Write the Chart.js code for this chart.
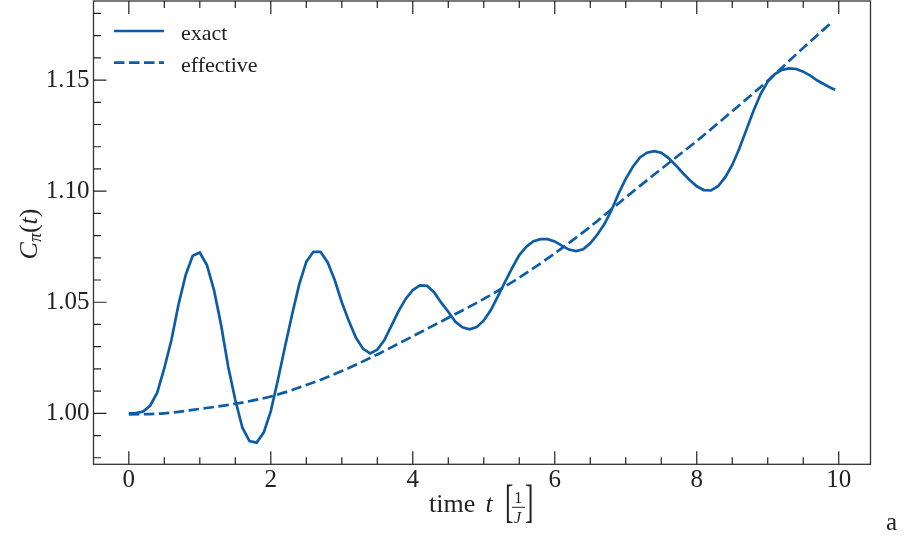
<!DOCTYPE html>
<html>
<head>
<meta charset="utf-8">
<script src="https://cdn.jsdelivr.net/npm/chart.js@4.4.1/dist/chart.umd.min.js"></script>
<style>
    html, body { margin: 0; padding: 0; background: #fff; }
    #wrap { width: 904px; height: 537px; position: relative; }
</style>
</head>
<body>
<div id="wrap"><canvas id="corrChart"></canvas></div>
<script>
(function () {
    'use strict';

    // C_pi(t): exact dynamics vs effective model
    var T_EXACT = [
        0.0, 0.1, 0.2, 0.3, 0.4, 0.5, 0.6, 0.7, 0.8, 0.9,
        1.0, 1.1, 1.2, 1.3, 1.4, 1.5, 1.6, 1.7, 1.8, 1.9,
        2.0, 2.1, 2.2, 2.3, 2.4, 2.5, 2.6, 2.7, 2.8, 2.9,
        3.0, 3.1, 3.2, 3.3, 3.4, 3.5, 3.6, 3.7, 3.8, 3.9,
        4.0, 4.1, 4.2, 4.3, 4.4, 4.5, 4.6, 4.7, 4.8, 4.9,
        5.0, 5.1, 5.2, 5.3, 5.4, 5.5, 5.6, 5.7, 5.8, 5.9,
        6.0, 6.1, 6.2, 6.3, 6.4, 6.5, 6.6, 6.7, 6.8, 6.9,
        7.0, 7.1, 7.2, 7.3, 7.4, 7.5, 7.6, 7.7, 7.8, 7.9,
        8.0, 8.1, 8.2, 8.3, 8.4, 8.5, 8.6, 8.7, 8.8, 8.9,
        9.0, 9.1, 9.2, 9.3, 9.4, 9.5, 9.6, 9.7, 9.8, 9.9, 9.95
    ];
    var C_EXACT = [
        1.0000, 1.0001, 1.0008, 1.0034, 1.0093, 1.0203, 1.0330, 1.0490, 1.0622, 1.0709,
        1.0724, 1.0667, 1.0555, 1.0397, 1.0210, 1.0060, 0.9935, 0.9875, 0.9868, 0.9913,
        1.0010, 1.0150, 1.0300, 1.0445, 1.0580, 1.0682, 1.0727, 1.0727, 1.0680, 1.0600,
        1.0500, 1.0415, 1.0340, 1.0290, 1.0270, 1.0286, 1.0330, 1.0395, 1.0460, 1.0515,
        1.0555, 1.0576, 1.0574, 1.0545, 1.0498, 1.0457, 1.0412, 1.0387, 1.0378, 1.0388,
        1.0418, 1.0465, 1.0528, 1.0592, 1.0655, 1.0712, 1.0750, 1.0775, 1.0784, 1.0784,
        1.0774, 1.0755, 1.0737, 1.0730, 1.0738, 1.0765, 1.0805, 1.0852, 1.0915, 1.0990,
        1.1055, 1.1110, 1.1152, 1.1173, 1.1180, 1.1173, 1.1150, 1.1118, 1.1083, 1.1050,
        1.1022, 1.1005, 1.1003, 1.1022, 1.1062, 1.1118, 1.1192, 1.1277, 1.1362, 1.1437,
        1.1493, 1.1527, 1.1546, 1.1553, 1.1550, 1.1538, 1.1520, 1.1498, 1.1480, 1.1463, 1.1456
    ];
    var T_EFFECTIVE = [0.0, 0.5, 1.0, 1.5, 2.0, 2.5, 3.0, 3.5, 4.0, 4.5, 5.0,
                       5.5, 6.0, 6.5, 7.0, 7.5, 8.0, 8.5, 9.0, 9.5, 9.9];
    var C_EFFECTIVE = [0.9995, 1.0000, 1.0020, 1.0043, 1.0076, 1.0127, 1.0190, 1.0265, 1.0347, 1.0430, 1.0515,
                       1.0611, 1.0720, 1.0840, 1.0972, 1.1100, 1.1226, 1.1360, 1.1497, 1.1645, 1.1760];

    var X_TICKS = [0, 2, 4, 6, 8, 10];
    var Y_TICKS = [1.00, 1.05, 1.10, 1.15];
    var X_MINOR_STEP = 0.5;
    var Y_MINOR_STEP = 0.01;

    var X_MIN = -0.4975, X_MAX = 10.4475;
    var Y_MIN = 0.97705, Y_MAX = 1.1856;

    var BLUE = '#0C5DA5';
    var INK = '#222';
    var SPINE = '#333';
    var SERIF = '"Liberation Serif", "DejaVu Serif", serif';
    var DASH = [10.5, 4.5];

    function pairs(xs, ys) {
        return xs.map(function (x, i) { return { x: x, y: ys[i] }; });
    }

    // spines on all four sides, inward ticks on left/bottom/top
    var framePlugin = {
        id: 'frame',
        afterDatasetsDraw: function (chart) {
            var ctx = chart.ctx, a = chart.chartArea;
            var xs = chart.scales.x, ys = chart.scales.y;
            ctx.save();
            ctx.strokeStyle = SPINE;
            ctx.lineWidth = 1.3;
            ctx.strokeRect(a.left, a.top, a.right - a.left, a.bottom - a.top);

            ctx.lineWidth = 1.2;
            ctx.strokeStyle = INK;
            ctx.beginPath();
            var v, p, len;
            for (v = -0.5; v <= 10.5 + 1e-9; v += X_MINOR_STEP) {
                p = xs.getPixelForValue(v);
                if (p < a.left + 1 || p > a.right - 1) continue;
                len = Math.abs(v % 2) < 1e-6 ? 13 : 7;
                ctx.moveTo(p, a.bottom); ctx.lineTo(p, a.bottom - len);
                ctx.moveTo(p, a.top); ctx.lineTo(p, a.top + len);
            }
            for (v = 0.97; v <= 1.19 + 1e-9; v += Y_MINOR_STEP) {
                p = ys.getPixelForValue(v);
                if (p < a.top + 1 || p > a.bottom - 1) continue;
                var major = Y_TICKS.some(function (t) { return Math.abs(t - v) < 1e-6; });
                len = major ? 13 : 7.5;
                ctx.moveTo(a.left, p); ctx.lineTo(a.left + len, p);
            }
            ctx.stroke();
            ctx.restore();
        }
    };

    // legend, axis titles and panel letter
    var textPlugin = {
        id: 'labels',
        afterDraw: function (chart) {
            var ctx = chart.ctx;
            ctx.save();

            // legend
            ctx.strokeStyle = BLUE;
            ctx.lineWidth = 2.7;
            ctx.beginPath(); ctx.moveTo(114, 31); ctx.lineTo(164, 31); ctx.stroke();
            ctx.setLineDash(DASH);
            ctx.beginPath(); ctx.moveTo(114, 62.7); ctx.lineTo(164, 62.7); ctx.stroke();
            ctx.setLineDash([]);

            ctx.fillStyle = INK;
            ctx.textBaseline = 'alphabetic';
            ctx.textAlign = 'left';
            ctx.font = '22px ' + SERIF;
            ctx.fillText('exact', 181, 39.5);
            ctx.fillText('effective', 181, 71.5);

            // x title: time t [1/J]
            ctx.font = '26px ' + SERIF;
            ctx.fillText('time', 429, 511.5);
            ctx.font = 'italic 26px ' + SERIF;
            ctx.fillText('t', 485.5, 511.5);

            ctx.save();
            ctx.font = '46px ' + SERIF;
            ctx.translate(505, 517);
            ctx.scale(0.55, 1);
            ctx.fillText('[', 0, 0);
            ctx.restore();
            ctx.save();
            ctx.font = '46px ' + SERIF;
            ctx.translate(525, 517);
            ctx.scale(0.55, 1);
            ctx.fillText(']', 0, 0);
            ctx.restore();

            ctx.textAlign = 'center';
            ctx.font = '16px ' + SERIF;
            ctx.fillText('1', 518.3, 503);
            ctx.font = 'italic 16px ' + SERIF;
            ctx.fillText('J', 517.5, 523);
            ctx.fillRect(512, 506.8, 13, 1);

            // y title: C_pi(t), rotated
            ctx.save();
            ctx.translate(37, 234);
            ctx.rotate(-Math.PI / 2);
            ctx.textAlign = 'left';
            var parts = [
                { s: 'C', f: 'italic 26px ', dy: 0 },
                { s: '\u03C0', f: 'italic 18px ', dy: 4 },
                { s: '(', f: '26px ', dy: 0 },
                { s: 't', f: 'italic 26px ', dy: 0 },
                { s: ')', f: '26px ', dy: 0 }
            ];
            var total = 0;
            parts.forEach(function (pt) {
                ctx.font = pt.f + SERIF;
                pt.w = ctx.measureText(pt.s).width;
                total += pt.w;
            });
            var cx = -total / 2;
            parts.forEach(function (pt) {
                ctx.font = pt.f + SERIF;
                ctx.fillText(pt.s, cx, pt.dy);
                cx += pt.w;
            });
            ctx.restore();

            // panel letter
            ctx.textAlign = 'left';
            ctx.font = '25px ' + SERIF;
            ctx.fillText('a', 886, 530);

            ctx.restore();
        }
    };

    var ctx = document.getElementById('corrChart').getContext('2d');
    new Chart(ctx, {
        type: 'line',
        data: {
            datasets: [{
                label: 'exact',
                data: pairs(T_EXACT, C_EXACT),
                borderColor: BLUE,
                borderWidth: 2.7,
                pointRadius: 0,
                tension: 0,
                fill: false,
            }, {
                label: 'effective',
                data: pairs(T_EFFECTIVE, C_EFFECTIVE),
                borderColor: BLUE,
                borderWidth: 2.7,
                borderDash: DASH,
                pointRadius: 0,
                cubicInterpolationMode: 'monotone',
                fill: false,
            }],
        },
        options: {
            responsive: true,
            maintainAspectRatio: false,
            animation: false,
            layout: { padding: { top: 1, right: 33.5, left: 0, bottom: 0 } },
            plugins: {
                legend: { display: false },
                tooltip: { enabled: false },
            },
            scales: {
                x: {
                    type: 'linear',
                    min: X_MIN,
                    max: X_MAX,
                    grid: { display: false, drawTicks: false },
                    border: { display: false },
                    afterBuildTicks: function (s) {
                        s.ticks = X_TICKS.map(function (v) { return { value: v }; });
                    },
                    afterFit: function (s) {
                        s.height = 72.7;
                        s.paddingLeft = 0;
                        s.paddingRight = 0;
                    },
                    ticks: {
                        padding: 1,
                        color: INK,
                        font: { family: SERIF, size: 25 },
                        maxRotation: 0,
                        callback: function (v) { return String(v); },
                    },
                },
                y: {
                    type: 'linear',
                    min: Y_MIN,
                    max: Y_MAX,
                    grid: { display: false, drawTicks: false },
                    border: { display: false },
                    afterBuildTicks: function (s) {
                        s.ticks = Y_TICKS.map(function (v) { return { value: v }; });
                    },
                    afterFit: function (s) {
                        s.width = 93.5;
                        s.paddingTop = 0;
                        s.paddingBottom = 0;
                    },
                    ticks: {
                        padding: 4,
                        color: INK,
                        font: { family: SERIF, size: 25 },
                        callback: function (v) { return v.toFixed(2); },
                    },
                },
            },
        },
        plugins: [framePlugin, textPlugin],
    });
})();
</script>
</body>
</html>
